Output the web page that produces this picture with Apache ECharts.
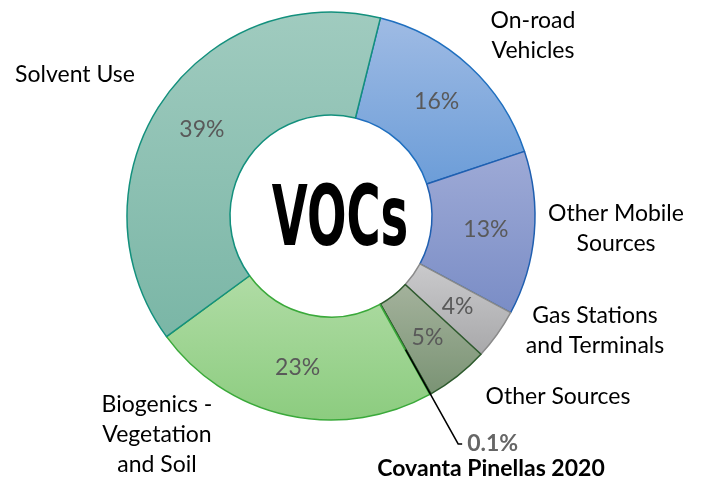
<!DOCTYPE html>
<html lang="en">
<head>
    <meta charset="UTF-8">
    <title>VOCs</title>
    <script src="https://cdn.jsdelivr.net/npm/echarts@6/dist/echarts.min.js"></script>
    <style>
        html, body { margin: 0; padding: 0; background: #fff; }
        #main { width: 703px; height: 485px; }
    </style>
</head>
<body>
<div id="main"></div>
<script type="text/javascript">
    // data
    var categories = ['On-road\nVehicles', 'Other Mobile\nSources', 'Gas Stations\nand Terminals', 'Other Sources',
        'Covanta Pinellas 2020', 'Biogenics -\nVegetation\nand Soil', 'Solvent Use'];
    var shares = [16, 13, 4, 5, 0.1, 23, 39];
    var covantaIdx = 4;

    // slice colours: [top, bottom, border]
    var sliceColors = [
        ['#9fbbe4', '#6c9dd8', '#1f6fbf'],
        ['#9eaad6', '#7a8dc6', '#1f5fb0'],
        ['#cacacc', '#a8a8aa', '#8a8a8a'],
        ['#a4b29c', '#7a9374', '#2d5a2d'],
        ['#7a9374', '#7a9374', '#2d5a2d'],
        ['#b0dca5', '#8ccc7f', '#3aa93a'],
        ['#a0cbbf', '#7ab6a6', '#13907d']
    ];
    // where the outer names sit (centre of each text block)
    var namePos = [[533, 36], [616, 229], [595, 331], [558, 397], null, [157, 435], [75, 75]];

    var font = 'Lato, "Open Sans", sans-serif';

    function grad(c) {
        return new echarts.graphic.LinearGradient(0, 0, 0, 1, [
            {offset: 0, color: c[0]}, {offset: 1, color: c[1]}
        ]);
    }

    var mainData = categories.map(function (n, i) {
        return {
            name: n,
            value: shares[i],
            itemStyle: {color: grad(sliceColors[i]), borderColor: sliceColors[i][2], borderWidth: 1.5}
        };
    });

    var nameData = categories.map(function (n, i) {
        var d = {name: n, value: shares[i]};
        if (i === covantaIdx) {
            d.labelLine = {show: true};
        }
        return d;
    });

    var myChart = echarts.init(document.getElementById('main'));

    var option = {
        animation: false,
        graphic: [{
            type: 'text',
            x: 340,
            y: 223,
            scaleX: 0.76,
            scaleY: 1.22,
            style: {
                text: 'VOCs',
                fill: '#000',
                font: 'bold 68px "DejaVu Sans Condensed", "DejaVu Sans", sans-serif',
                textAlign: 'center',
                textVerticalAlign: 'middle'
            },
            z: 10
        }],
        series: [{
            // ring with the percentages
            type: 'pie',
            z: 2,
            center: [331, 216],
            radius: [101, 204],
            startAngle: 76,
            clockwise: true,
            silent: true,
            avoidLabelOverlap: false,
            label: {
                show: true,
                position: 'inside',
                fontFamily: font,
                fontSize: 23,
                color: '#595959',
                formatter: function (p) {
                    if (p.dataIndex === covantaIdx) return '{n|' + p.name + '}';
                    return p.value + '%';
                },
                rich: {
                    n: {fontFamily: font, fontSize: 23, fontWeight: 'bold', color: '#000'}
                }
            },
            labelLine: {show: false},
            labelLayout: function (p) {
                if (p.dataIndex === covantaIdx) {
                    return {x: 491, y: 469, align: 'center', verticalAlign: 'middle'};
                }
            },
            data: mainData
        }, {
            // invisible copy carrying the outer names and the leader line
            type: 'pie',
            z: 5,
            center: [331, 216],
            radius: [101, 153],
            startAngle: 76,
            clockwise: true,
            silent: true,
            avoidLabelOverlap: false,
            itemStyle: {color: 'rgba(0,0,0,0)', borderWidth: 0},
            label: {
                show: true,
                position: 'outside',
                alignTo: 'none',
                fontFamily: font,
                fontSize: 23,
                lineHeight: 30,
                color: '#000',
                align: 'center',
                formatter: function (p) {
                    if (p.dataIndex === covantaIdx) return '{v|' + p.value + '%}';
                    return p.name;
                },
                rich: {
                    v: {fontFamily: font, fontSize: 23, fontWeight: 'bold', color: '#666'}
                }
            },
            labelLine: {
                show: false,
                length: 108,
                length2: 4,
                lineStyle: {color: '#000', width: 1.5}
            },
            labelLayout: function (p) {
                var pos = namePos[p.dataIndex];
                if (!pos) return;
                return {x: pos[0], y: pos[1], align: 'center', verticalAlign: 'middle'};
            },
            data: nameData
        }]
    };

    myChart.setOption(option);
</script>
</body>
</html>
